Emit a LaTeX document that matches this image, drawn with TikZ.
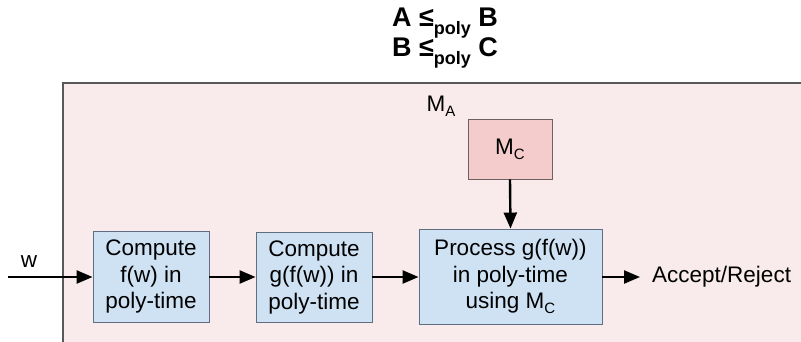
\documentclass[tikz,border=0pt]{standalone}
\usepackage{fontspec}
\setmainfont{Liberation Sans}
\usetikzlibrary{arrows.meta}
\definecolor{outerfill}{HTML}{F9EBEB}
\definecolor{outerline}{HTML}{595959}
\definecolor{boxfill}{HTML}{CFE2F3}
\definecolor{boxline}{HTML}{5F6F7F}
\definecolor{mcfill}{HTML}{F4CCCC}
\definecolor{mcline}{HTML}{6F5F5F}
\newcommand{\lowsub}[1]{\raisebox{-0.55ex}{\fontsize{18}{18}\selectfont #1}}
\newcommand{\smallsub}[1]{\raisebox{-0.4ex}{\fontsize{15}{15}\selectfont #1}}
\tikzset{
  x=1pt, y=-1pt,
  procbox/.style={draw=boxline, fill=boxfill, line width=0.9pt, inner sep=0pt, align=center,
    font=\fontsize{22.5}{26.5}\selectfont},
  orbox/.style={draw=mcline, fill=mcfill, line width=0.9pt, inner sep=0pt, align=center,
    font=\fontsize{22.5}{26.5}\selectfont},
  flow/.style={line width=2.4pt, -{Triangle[length=16pt,width=13pt]}},
  lbl/.style={inner sep=0pt, font=\fontsize{22.5}{26}\selectfont},
  ttl/.style={inner sep=0pt, font=\bfseries\fontsize{27}{30}\selectfont},
}
\begin{document}
\begin{tikzpicture}
\useasboundingbox (0,0) rectangle (801,342);
% outer machine region
\fill[outerfill] (63,83) rectangle (801,342);
\draw[outerline, line width=1.6pt] (63,342) -- (63,83) -- (801,83);
% title
\node[ttl, anchor=base] (t1) at (445,27) {A ≤\lowsub{poly} B};
\node[ttl, anchor=base] (t2) at (445,57) {B ≤\lowsub{poly} C};
% label M_A
\node[lbl] (ma) at (441,106) {M\smallsub{A}};
% boxes
\node[procbox, minimum width=116pt, minimum height=91pt] (b1) at (151,276.5) {Compute\\f(w) in\\poly-time};
\node[procbox, minimum width=116pt, minimum height=90pt] (b2) at (314,277) {Compute\\g(f(w)) in\\poly-time};
\node[procbox, minimum width=183pt, minimum height=95pt] (b3) at (510.5,276.5) {Process g(f(w))\\in poly-time\\using M\smallsub{C}};
\node[orbox, minimum width=84pt, minimum height=60pt] (mc) at (510,149) {M\smallsub{C}};
% input / output
\coordinate (win) at (8,277);
\node[lbl, anchor=west] (out) at (652,277) {Accept/Reject};
\node[lbl] (w) at (29,262) {w};
% connectors
\draw[flow] (win) -- (b1.west |- win);
\draw[flow] (b1.east |- win) -- (b2.west |- win);
\draw[flow] (b2.east |- win) -- (b3.west |- win);
\draw[flow] (b3.east |- win) -- ([xshift=-12pt]out.west);
\draw[flow] (mc.south) -- (b3.north);
\end{tikzpicture}
\end{document}
